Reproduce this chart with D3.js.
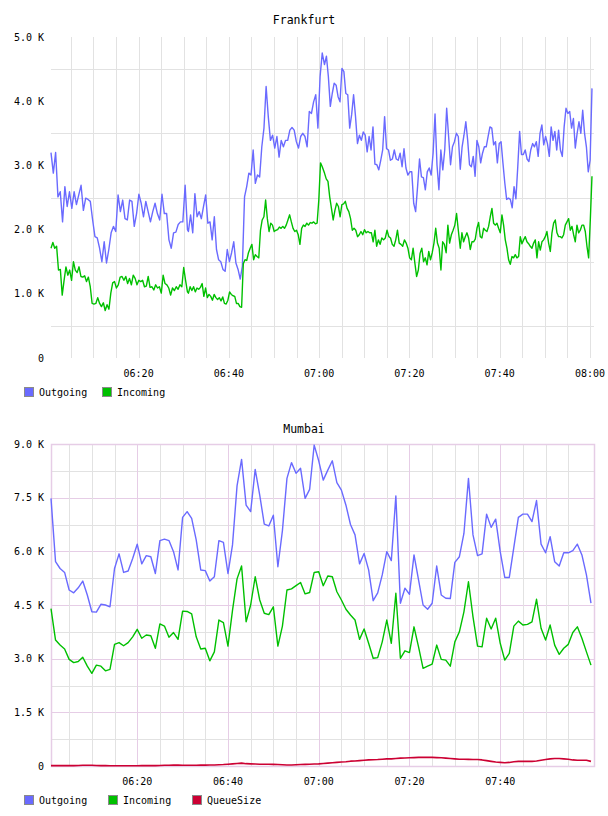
<!DOCTYPE html>
<html><head><meta charset="utf-8">
<script src="https://cdn.jsdelivr.net/npm/d3@7"></script>
<style>
body{margin:0;background:#fff}
svg{display:block}
text{font-family:"DejaVu Sans Mono",monospace;fill:#000}
</style>
</head><body>
<svg id="c" width="608" height="816"></svg>
<script>
// ---------------- DATA ----------------
// Frankfurt: values in K, recorded in four blocks, each evenly spaced between its start and end time
const frankfurtBlocks = [["06:00:35","06:30:49"],["06:31:02","07:00:41"],["07:01:11","07:30:50"],["07:31:16","08:00:27"]];
const frankfurtOutgoing = [
 [3.2,2.88,3.2,2.51,2.59,2.12,2.67,2.36,2.59,2.33,2.59,2.39,2.54,2.69,2.3,2.49,2.47,2.44,2.15,1.89,1.87,1.71,1.5,1.81,1.48,1.69,1.95,2.05,1.97,2.54,2.28,2.46,2.17,2.15,2.46,2.44,2.05,2.25,2.55,2.41,2.2,2.44,2.28,2.12,2.28,2.41,2.25,2.15,2.55,2.25,2.25,1.84,1.71,1.95,1.96,2.08,2.12,2.12,2.69,2.0],
 [1.97,2.23,1.95,2.56,2.2,2.28,2.17,2.36,2.54,2.1,2.12,1.84,2.2,1.69,1.53,1.5,1.38,1.35,1.69,1.5,1.64,1.81,1.48,1.38,1.23,1.43,2.51,2.67,2.88,2.85,3.24,2.72,2.85,2.82,3.29,3.58,4.23,3.76,3.39,3.47,3.27,3.45,3.13,3.39,3.29,3.39,3.39,3.55,3.59,3.55,3.37,3.27,3.45,3.5,3.45,3.29,3.84,3.81,3.99,4.1,3.58,4.38,4.75],
 [4.57,4.7,4.38,3.92,4.12,4.28,4.25,4.07,3.99,4.51,4.46,4.12,4.1,3.58,3.79,4.1,3.76,3.34,3.47,3.39,3.52,3.47,3.21,3.45,3.24,3.6,3.02,3.01,2.93,3.08,3.24,3.76,3.26,3.24,3.08,3.1,3.24,3.1,3.08,3.19,2.98,3.26,2.96,2.85,2.9,2.9,2.41,2.28,2.67,3.1,2.82,2.81,2.62,2.9,2.96,2.85,3.19,3.8,3.01,2.62,3.24,2.93,3.24,3.89,3.45,3.01,3.29,3.37,3.5,3.45],
 [2.94,3.29,3.47,3.68,3.39,3.01,2.98,3.14,2.83,3.39,3.29,3.04,3.19,3.29,3.29,3.45,3.6,3.58,3.32,3.37,3.04,3.34,3.37,3.04,2.73,2.47,2.49,2.47,2.34,2.67,2.48,2.98,3.53,3.17,3.17,3.24,3.1,3.06,3.24,3.34,3.29,3.37,3.14,3.5,3.63,3.32,3.45,3.34,3.14,3.6,3.39,3.53,3.24,3.55,3.24,3.14,3.6,3.89,3.81,3.84,3.58,3.73,3.27,3.5,3.68,3.5,3.86,3.5,3.29,2.9,3.08,4.2]
];
const frankfurtIncoming = [
 [1.71,1.8,1.71,1.74,1.37,1.38,0.98,1.21,1.42,1.29,1.37,1.21,1.5,1.37,1.33,1.42,1.27,1.26,1.28,1.19,1.26,1.11,0.85,0.84,0.85,0.94,0.85,0.8,0.86,0.74,0.83,0.76,1.01,1.17,1.19,1.09,1.14,1.26,1.27,1.21,1.27,1.16,1.24,1.14,1.29,1.24,1.14,1.21,1.19,1.21,1.11,1.12,1.27,1.1,1.11,1.06,1.14,1.09,1.11,1.01,1.29,1.16,1.14,1.09,0.98,1.09,1.05,1.11,1.07,1.14,1.11,1.41,1.21,1.03],
 [1.01,1.11,1.05,1.11,1.03,1.09,1.07,1.1,1.16,0.96,1.09,0.94,0.99,0.96,0.9,0.99,0.94,0.91,0.94,0.89,0.95,0.85,0.84,0.9,1.03,0.99,0.97,0.96,0.85,0.85,0.8,0.79,1.47,1.53,1.52,1.64,1.71,1.77,1.53,1.61,1.58,1.56,1.99,2.15,2.2,2.46,2.17,1.97,2.1,2.07,1.97,1.99,2.0,2.04,2.02,2.05,2.02,2.07,2.15,2.23,2.12,2.02,1.97,1.99,1.92,1.77,2.02,2.07,2.05,2.1,2.07,2.11,2.1,2.12,2.09,2.1,2.46,3.04,2.98],
 [2.88,2.79,2.75,2.51,2.33,2.15,2.3,2.41,2.36,2.2,2.39,2.4,2.44,2.33,2.28,2.17,1.99,2.02,1.99,1.89,1.92,1.97,1.92,2.0,1.95,1.97,1.95,1.95,1.81,1.99,1.74,1.84,1.77,1.87,1.84,1.87,1.99,1.89,1.87,1.77,1.74,1.84,1.99,1.79,1.77,1.74,1.84,1.79,1.71,1.56,1.53,1.71,1.48,1.27,1.37,1.63,1.71,1.5,1.56,1.45,1.66,1.53,1.64,1.79,2.02,1.79,1.71,1.37,1.81,1.77,1.64,2.07,1.79,1.92,1.99,2.07,2.25,1.99],
 [1.71,1.95,1.81,1.89,1.95,1.87,1.69,1.81,1.81,1.85,2.02,2.11,1.89,1.87,2.02,1.99,1.97,2.05,2.2,2.33,2.1,2.07,2.1,2.02,1.95,2.23,2.07,1.84,1.71,1.53,1.46,1.58,1.56,1.61,1.56,1.58,1.89,1.78,1.84,1.89,1.81,1.78,1.74,1.71,1.79,1.84,1.56,1.81,1.68,1.81,1.84,1.89,1.97,1.79,1.66,1.95,2.1,2.15,1.95,1.89,1.89,1.87,1.92,2.07,2.12,2.17,1.99,2.05,1.92,1.81,2.07,1.95,1.99,2.07,2.07,1.97,1.74,1.56,2.15,2.83]
];
const frankfurtYTicks = [0,1,2,3,4,5];
const frankfurtXLabels = ["06:20","06:40","07:00","07:20","07:40","08:00"];

// Mumbai: one value per minute starting 06:01, values in K
const mumbaiStart = "06:01:00";
const mumbaiOutgoing = [7.48,5.71,5.52,5.41,4.92,4.84,4.98,5.17,4.78,4.31,4.3,4.52,4.5,4.45,5.52,5.93,5.41,5.45,5.8,6.2,5.65,5.88,5.85,5.38,6.3,6.34,6.3,5.99,5.48,6.95,7.11,6.92,6.32,5.48,5.46,5.17,5.29,6.3,6.25,5.38,6.18,7.83,8.57,7.29,7.11,8.29,7.57,6.76,6.71,7.01,5.57,6.58,8.04,8.48,8.18,8.32,7.48,7.73,8.97,8.53,7.99,8.27,8.53,7.92,7.71,7.29,6.75,6.46,5.65,5.94,5.48,4.62,4.84,5.34,5.99,5.74,7.55,4.55,4.97,4.8,5.9,5.2,4.5,4.38,4.55,5.59,4.78,4.69,4.68,5.69,5.85,6.5,8.04,6.46,5.88,5.93,7.04,6.67,6.9,5.99,5.27,5.27,6.11,6.95,7.04,7.04,6.83,7.42,6.2,5.96,6.41,5.71,5.59,5.96,5.96,6.02,6.2,5.9,5.34,4.55];
const mumbaiIncoming = [4.4,3.52,3.38,3.27,2.98,2.89,2.92,3.04,2.79,2.59,2.82,2.79,2.66,2.7,3.4,3.45,3.36,3.45,3.61,3.82,3.57,3.66,3.64,3.29,3.97,3.91,3.6,3.73,3.54,4.33,4.32,4.25,3.61,3.27,3.29,2.94,3.19,4.08,4.01,3.35,4.35,5.23,5.59,4.03,4.5,5.29,4.64,4.27,4.23,4.45,3.35,3.91,4.92,4.95,5.04,5.13,4.81,4.85,5.41,5.43,5.04,5.31,5.29,4.87,4.64,4.38,4.22,4.08,3.54,3.83,3.43,3.01,3.03,3.47,4.08,3.43,4.83,3.01,3.22,3.17,3.89,3.33,2.73,2.79,2.85,3.38,2.98,2.96,2.79,3.47,3.75,4.31,5.15,4.17,3.35,3.33,4.13,3.83,4.13,3.43,2.96,3.15,3.91,4.05,3.94,3.96,4.03,4.66,3.85,3.52,3.94,3.38,3.12,3.29,3.4,3.73,3.89,3.57,3.19,2.82];
const mumbaiQueueSize = [0.01,0.01,0.01,0.01,0.01,0.01,0.015,0.02,0.02,0.02,0.015,0.01,0.01,0.005,0.005,0.005,0.005,0.005,0.005,0.005,0.01,0.01,0.01,0.01,0.015,0.02,0.02,0.025,0.025,0.02,0.02,0.02,0.02,0.025,0.025,0.03,0.03,0.035,0.04,0.05,0.06,0.07,0.08,0.065,0.06,0.055,0.05,0.05,0.05,0.045,0.04,0.035,0.03,0.03,0.035,0.04,0.045,0.05,0.055,0.06,0.07,0.08,0.09,0.1,0.11,0.12,0.135,0.14,0.15,0.16,0.17,0.175,0.18,0.19,0.2,0.2,0.21,0.22,0.225,0.23,0.235,0.24,0.24,0.24,0.24,0.235,0.23,0.22,0.21,0.2,0.19,0.19,0.185,0.18,0.18,0.17,0.15,0.13,0.11,0.1,0.09,0.1,0.12,0.13,0.13,0.13,0.13,0.14,0.16,0.18,0.2,0.21,0.21,0.2,0.19,0.17,0.16,0.16,0.16,0.13];
const mumbaiYTicks = [0,1.5,3,4.5,6,7.5,9];
const mumbaiXLabels = ["06:20","06:40","07:00","07:20","07:40"];

const colors = {Outgoing:"#6a6aff", Incoming:"#00c000", QueueSize:"#cc0033"};

// ---------------- DRAWING ----------------
const parse = d3.timeParse("%H:%M:%S");
const parseHM = d3.timeParse("%H:%M");
const svg = d3.select("#c");
const fmtK = v => v === 0 ? "0" : v.toFixed(1) + " K";

function blockPoints(blocks, arrays) {
  const pts = [];
  arrays.forEach((vals, k) => {
    const t0 = parse(blocks[k][0]).getTime(), t1 = parse(blocks[k][1]).getTime();
    vals.forEach((v, i) => pts.push({t: new Date(t0 + (t1 - t0) * i / (vals.length - 1)), v}));
  });
  return pts;
}
function minutePoints(start, vals) {
  const t0 = parse(start);
  return vals.map((v, i) => ({t: d3.timeMinute.offset(t0, i), v}));
}

function chart(cfg) {
  const g = svg.append("g");
  const x = d3.scaleTime().domain(cfg.xDomain.map(parse)).range([cfg.left, cfg.right]);
  const y = d3.scaleLinear().domain([0, cfg.yMax]).range([cfg.bottom, cfg.top]);

  // horizontal grid
  g.append("g").selectAll("line").data(cfg.hGrid).join("line")
    .attr("x1", cfg.left).attr("x2", cfg.right)
    .attr("y1", d => Math.round(y(d)) + 0.5).attr("y2", d => Math.round(y(d)) + 0.5)
    .attr("stroke", d => cfg.hColor(d)).attr("stroke-width", 1);
  // vertical grid
  const vt = x.ticks(d3.timeMinute.every(5)).filter(cfg.vFilter);
  g.append("g").selectAll("line").data(vt).join("line")
    .attr("x1", d => Math.round(x(d)) + 0.5).attr("x2", d => Math.round(x(d)) + 0.5)
    .attr("y1", cfg.top).attr("y2", cfg.bottom)
    .attr("stroke", d => cfg.vColor(d)).attr("stroke-width", 1);
  if (cfg.border) {
    g.append("rect").attr("x", cfg.left + 0.5).attr("y", cfg.top + 0.5)
      .attr("width", cfg.right - cfg.left).attr("height", cfg.bottom - cfg.top)
      .attr("fill", "none").attr("stroke", cfg.border).attr("stroke-width", 1.5);
  }
  // title
  g.append("text").attr("x", 304).attr("y", cfg.titleY).attr("text-anchor", "middle")
    .attr("font-size", 11.5).text(cfg.title);
  // y labels
  g.append("g").selectAll("text").data(cfg.yTicks).join("text")
    .attr("x", 44).attr("y", d => y(d)).attr("dy", "0.35em").attr("text-anchor", "end")
    .attr("font-size", 10).text(fmtK);
  // x labels
  g.append("g").selectAll("text").data(cfg.xLabels).join("text")
    .attr("x", d => x(parseHM(d))).attr("y", cfg.bottom + 15).attr("dy", "0.35em")
    .attr("text-anchor", "middle").attr("font-size", 10).text(d => d);
  // lines
  const line = d3.line().x(d => x(d.t)).y(d => y(d.v));
  cfg.series.forEach(s => {
    g.append("path").datum(s.points).attr("d", line).attr("fill", "none")
      .attr("stroke", colors[s.name]).attr("stroke-width", s.width || 1.4)
      .attr("stroke-linejoin", "round");
  });
  // legend
  cfg.series.forEach((s, i) => {
    const lx = cfg.legendX[i];
    g.append("rect").attr("x", lx + 0.5).attr("y", cfg.legendY - 4.5).attr("width", 9).attr("height", 9)
      .attr("fill", colors[s.name]).attr("stroke", "#8a8a8a").attr("stroke-width", 1);
    g.append("text").attr("x", lx + 15).attr("y", cfg.legendY).attr("dy", "0.35em")
      .attr("font-size", 10).text(s.name);
  });
}

const grey = "#e2e2e2", pink = "#e6cde6";

chart({
  title: "Frankfurt", titleY: 24,
  left: 51, right: 594, top: 37, bottom: 358,
  xDomain: ["06:00:35", "08:00:54"], yMax: 5,
  hGrid: [0.5, 1.5, 2.5, 3.5, 4.5], hColor: () => grey,
  vFilter: () => true, vColor: () => grey,
  yTicks: frankfurtYTicks, xLabels: frankfurtXLabels,
  series: [
    {name: "Outgoing", points: blockPoints(frankfurtBlocks, frankfurtOutgoing)},
    {name: "Incoming", points: blockPoints(frankfurtBlocks, frankfurtIncoming)}
  ],
  legendX: [24, 102], legendY: 392
});

chart({
  title: "Mumbai", titleY: 433,
  left: 51, right: 594, top: 444, bottom: 766,
  xDomain: ["06:01:00", "08:00:40"], yMax: 9,
  hGrid: d3.range(1, 12).map(i => i * 0.75), hColor: d => (Math.abs(d / 1.5 - Math.round(d / 1.5)) < 1e-6 ? pink : grey),
  vFilter: d => d.getHours() < 8, vColor: d => (d.getMinutes() % 20 === 0 ? pink : grey),
  border: pink,
  yTicks: mumbaiYTicks, xLabels: mumbaiXLabels,
  series: [
    {name: "Outgoing", points: minutePoints(mumbaiStart, mumbaiOutgoing)},
    {name: "Incoming", points: minutePoints(mumbaiStart, mumbaiIncoming)},
    {name: "QueueSize", points: minutePoints(mumbaiStart, mumbaiQueueSize), width: 1.6}
  ],
  legendX: [24, 108, 192], legendY: 800
});
</script>
</body></html>
